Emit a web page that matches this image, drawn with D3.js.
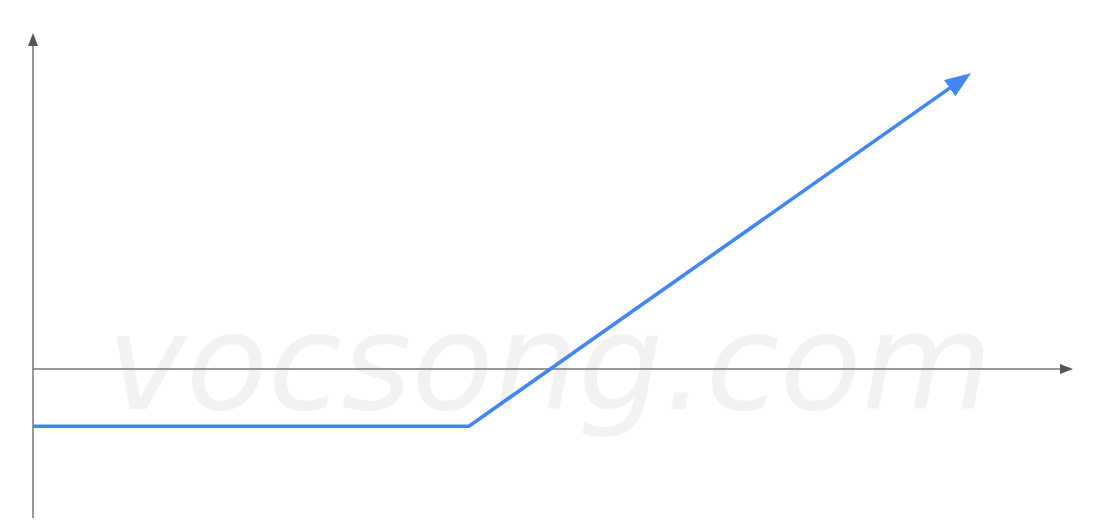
<!DOCTYPE html>
<html>
<head>
<meta charset="utf-8">
<script src="https://cdn.jsdelivr.net/npm/d3@7"></script>
<style>
html,body{margin:0;padding:0;background:#fff;}
svg{display:block;}
</style>
</head>
<body>
<svg id="chart" width="1095" height="530"></svg>
<script>
// Payoff diagram data (price units / profit units)
const prices = [0, 50.3, 107];
const payoffs = [-6.6, -6.6, 33.3];
const xDomain = [0, 120];
const yDomain = [-17.2, 38.8];
const watermarkText = "vocsong.com";

const W = 1095, H = 530;
const svg = d3.select("#chart");

const x = d3.scaleLinear().domain(xDomain).range([33, 1073]);
const y = d3.scaleLinear().domain(yDomain).range([518, 33]);

const defs = svg.append("defs");
defs.append("marker")
  .attr("id", "axisArrow")
  .attr("markerUnits", "userSpaceOnUse")
  .attr("viewBox", "0 0 13 10")
  .attr("markerWidth", 13).attr("markerHeight", 10)
  .attr("refX", 1).attr("refY", 5)
  .attr("orient", "auto")
  .append("path").attr("d", "M0,0 L13,5 L0,10 Z").attr("fill", "#555");

defs.append("marker")
  .attr("id", "lineArrow")
  .attr("markerUnits", "userSpaceOnUse")
  .attr("viewBox", "0 0 26 20")
  .attr("markerWidth", 26).attr("markerHeight", 20)
  .attr("refX", 13).attr("refY", 10)
  .attr("orient", "auto")
  .append("path").attr("d", "M0,0 L26,10 L0,20 Z").attr("fill", "#4285f4");

// watermark
svg.append("text")
  .attr("x", x(8.5))
  .attr("y", y(-4.6))
  .attr("font-family", "DejaVu Sans, Verdana, sans-serif")
  .attr("font-style", "italic")
  .attr("font-size", 134)
  .attr("fill", "#f2f2f2")
  .text(watermarkText);

// axes
svg.append("line")
  .attr("x1", x(xDomain[0])).attr("x2", x(xDomain[1]) - 12)
  .attr("y1", y(0)).attr("y2", y(0))
  .attr("stroke", "#777").attr("stroke-width", 1.5)
  .attr("marker-end", "url(#axisArrow)");

svg.append("line")
  .attr("x1", x(0)).attr("x2", x(0))
  .attr("y1", y(yDomain[0])).attr("y2", y(yDomain[1]) + 12)
  .attr("stroke", "#777").attr("stroke-width", 1.5)
  .attr("marker-end", "url(#axisArrow)");

// payoff line
const pts = prices.map((p, i) => [p, payoffs[i]]);
svg.append("path")
  .datum(pts)
  .attr("d", d3.line().x(d => x(d[0])).y(d => y(d[1])))
  .attr("fill", "none")
  .attr("stroke", "#4285f4")
  .attr("stroke-width", 3.6)
  .attr("stroke-linejoin", "miter")
  .attr("marker-end", "url(#lineArrow)");
</script>
</body>
</html>
